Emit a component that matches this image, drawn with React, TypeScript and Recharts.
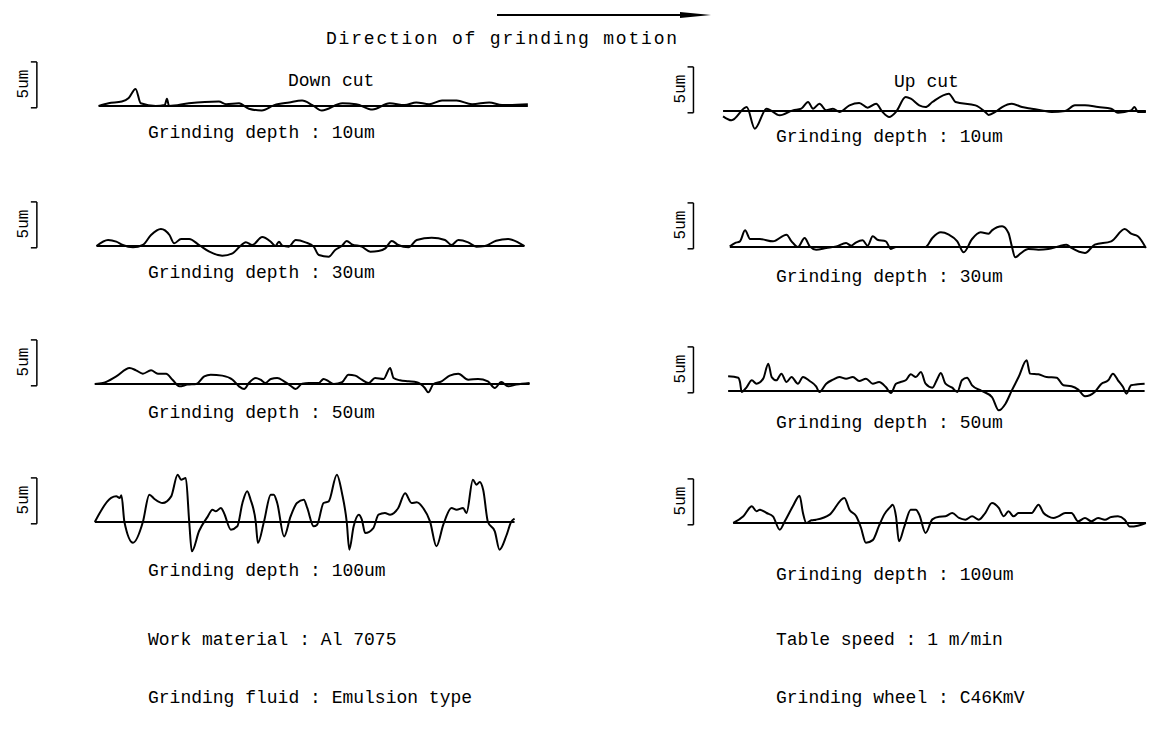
import React from 'react';
import { LineChart, Line, XAxis, YAxis, ReferenceLine } from 'recharts';

type Pt = [number, number];

// Surface profiles: [position along trace (0-100), height in um]
const downCut10: Pt[] = [[0,0],[2.3,0.3],[5.4,0.5],[7,0.9],[8.6,1.9],[9.8,0.3],[13.3,0],[15.4,0.1],[15.9,0.8],[16.4,0],[21,0.3],[28,0.5],[29.7,0.2],[32.7,0.3],[35,-0.3],[38,-0.5],[40.9,0.1],[44.4,0.4],[47.4,0.6],[49.8,0.1],[52,-0.5],[56.8,0.3],[60,0.2],[63.8,-0.4],[67.8,0.3],[71.3,0.1],[74,0.4],[77,0.2],[80,0.6],[83.4,0.6],[87,0.2],[91,0.4],[94,0.1],[100,0.2]];
const upCut10: Pt[] = [[0,-0.6],[2,-1.04],[5.6,0.44],[7.5,-1.96],[10.3,0.26],[13.4,-0.48],[16.5,0.07],[18.5,0.26],[20.1,1.0],[21.3,0.26],[22.8,0.81],[24.4,0.07],[26,0.26],[27.5,-0.1],[29.9,0.63],[32.2,0.89],[34.2,0.37],[36.2,0.81],[37.7,-0.1],[39.3,-0.67],[40.9,-0.1],[43.2,1.55],[44.4,1.37],[46.4,0.63],[47.9,0.44],[49.5,1.0],[53.4,1.93],[55,1.0],[59.7,0.63],[62,-0.1],[62.8,-0.44],[64.4,-0.1],[66,0.44],[68.3,0.81],[70.7,0.44],[73,0.26],[75.4,0.07],[77.7,-0.1],[80.9,0],[83.2,0.63],[85.6,0.63],[88.7,0.44],[91.8,0.26],[93.4,-0.2],[96.5,0.07],[97.3,0.44],[98.1,-0.1],[100,-0.1]];
const downCut30: Pt[] = [[-0.5,0],[2.2,0.67],[4.1,0.48],[5.6,0.11],[8,-0.15],[10.3,0.11],[12.2,1.22],[14.5,1.89],[16.5,1.22],[17.6,0.3],[19.2,0.78],[21.1,0.78],[23.4,0.11],[25.8,-0.63],[28.8,-1.07],[31.2,-0.81],[32.7,-0.15],[34.3,0.41],[35.8,0.11],[38.1,1.0],[40.1,0.48],[41.2,0],[42,0.48],[42.8,0.04],[44.3,-0.07],[45.9,0.67],[48.2,0.41],[50.1,-0.07],[51.3,-1.0],[53.6,-1.19],[55.1,-0.44],[56.7,0.04],[57.8,0.56],[59,0.19],[61.3,-0.07],[63.3,-0.63],[65.2,-0.56],[66.8,-0.26],[68.3,0.56],[69.8,0.11],[72.2,-0.15],[74.1,0.67],[77.6,0.93],[80.7,0.67],[82.2,0.11],[83.8,0.67],[86.1,0.41],[88,-0.07],[90,0],[92.6,0.59],[95.4,0.78],[97.7,0.41],[99.2,0]];
const upCut30: Pt[] = [[1.6,0.07],[2.8,0.44],[4,0.63],[5.2,1.85],[6.4,0.89],[8.7,0.89],[11.8,0.63],[15,1.37],[16.2,0.63],[17.7,0],[19.3,1.0],[20.5,0.07],[22,-0.3],[24.4,-0.11],[26.8,0.07],[29.1,0.44],[30.3,0.15],[31.5,0.52],[33,0.74],[34.2,0.15],[35.4,1.19],[36.5,0.81],[38.5,0.63],[39.7,-0.22],[40.9,0],[47.9,0],[49.5,1.0],[51.5,1.63],[53.4,1.37],[55.4,0.63],[56.9,-0.59],[58.9,0.89],[60.9,1.63],[62.8,1.48],[63.6,1.85],[66,2.3],[67.5,1.55],[68.3,0.07],[69.1,-1.15],[70.3,-0.74],[72.2,-0.22],[74.6,-0.3],[76.9,-0.22],[79.3,0.07],[81.2,0.26],[82.4,-0.11],[85.6,-0.67],[87.9,0.26],[91.8,0.63],[95,2.0],[96.5,1.48],[98.1,1.19],[100,-0.11]];
const downCut50: Pt[] = [[-0.9,0],[1,0.11],[4.1,0.85],[7.2,1.78],[8.7,1.52],[10.3,1.15],[12.2,1.52],[13.8,1.15],[15.7,1.15],[17.2,0.48],[18.8,-0.26],[20.7,-0.07],[22.7,0],[24.6,0.85],[26.1,1.04],[28.8,0.93],[31.2,0.48],[32.7,-0.26],[33.9,-0.56],[35,0.11],[36.6,0.67],[37.7,0.48],[38.9,0.11],[40.1,0.56],[41.6,0.67],[43.2,0.3],[44.7,-0.19],[45.9,-0.56],[47.4,0.04],[49,0.11],[51.3,0.11],[52.4,0.56],[53.6,0.3],[54.8,0],[56.7,0.19],[58.2,1.04],[59.8,0.93],[61.3,0.48],[62.9,0.11],[64.4,0.67],[66.4,0.56],[67.9,1.78],[68.7,0.67],[70.2,0.41],[72.2,0.3],[74.1,0.19],[76,-0.44],[76.8,-0.93],[78,0],[79.9,0.3],[81.8,0.93],[83.8,1.15],[86.1,0.48],[88.4,0.56],[90.7,0.3],[92.3,-0.44],[93.8,0.22],[95.4,-0.26],[97.3,-0.07],[100.4,0.11]];
const upCut50: Pt[] = [[1.2,1.63],[3.6,1.48],[4,1.0],[4.4,-0.11],[5.6,0.44],[6.8,1.19],[7.9,0.81],[9.5,1.37],[10.7,3.04],[11.5,1.55],[12.6,1.19],[13.8,1.93],[15,1.0],[16.2,1.55],[17.7,0.81],[18.9,1.55],[20.5,1.11],[22,0.52],[22.8,-0.11],[24.4,0.81],[26,1.26],[27.5,1.55],[29.1,1.37],[30.7,1.55],[32.2,1.11],[33.8,1.37],[35.4,0.81],[36.9,1.0],[38.5,0.44],[39.7,-0.22],[40.9,0.81],[42,1.0],[43.2,1.19],[44.4,1.85],[45.6,1.55],[46.8,2.11],[47.9,0.81],[49.5,0.37],[50.7,1.37],[51.5,2.0],[52.6,0.81],[54.2,0.37],[55.4,-0.11],[56.5,1.19],[57.7,1.48],[58.9,0.63],[61.2,0],[63.6,-0.67],[65.2,-2.15],[66.8,-1.41],[68.3,0.07],[69.9,1.55],[71.8,3.41],[72.6,1.93],[74.6,1.85],[76.5,1.55],[78.9,1.48],[80.5,0.63],[82.4,0.52],[84,0.15],[85.6,-0.59],[87.9,-0.11],[89.5,0.81],[91.1,1.19],[92.2,1.93],[93.4,1.19],[94.6,0.44],[95.4,-0.3],[96.5,0.63],[98.1,0.74],[99.7,0.81]];
const downCut100: Pt[] = [[-0.9,0],[2.9,2.67],[4.1,2.85],[4.9,2.67],[5.3,2.96],[6,0],[8,-2.3],[10.3,0],[11.8,3.04],[13,2.56],[14.9,2.11],[16.9,2.85],[18.4,5.26],[19.2,4.7],[20.3,4.89],[21.1,0],[21.7,-3.26],[23.4,-1.0],[25.4,0.6],[26.5,1.37],[27.3,1.19],[28.5,1.56],[29.2,1.0],[30.8,-0.85],[32.3,-0.48],[33.5,2.11],[34.6,3.41],[35.4,2.48],[36.6,0],[37.1,-2.33],[38.5,0],[40.1,3.04],[40.8,3.04],[41.6,2.11],[43.2,-1.6],[44.7,0.6],[46.2,2.11],[47.8,2.48],[48.6,1.56],[50.1,-0.48],[50.9,-0.3],[52.4,2.11],[53.6,2.3],[55.5,5.26],[56.7,3.19],[57.8,0],[58.4,-3.07],[59.4,-0.5],[60.6,0.81],[61.3,0.3],[62.1,-1.22],[64,-0.67],[65.2,0.81],[66.7,1.0],[67.9,0.81],[69.8,1.56],[71.4,3.19],[72.9,2.11],[74.1,2.19],[75.6,1.56],[77.2,0.07],[78.7,-2.7],[80.3,-0.3],[82.2,1.56],[83.4,1.37],[84.9,1.56],[85.7,1.0],[87.2,4.7],[88,4.15],[88.8,4.44],[89.6,3.56],[90.7,0],[92.3,-1.04],[93.4,-3.07],[95,-1.5],[96.1,0],[96.9,0.37]];
const upCut100: Pt[] = [[2.4,0],[4.8,0.74],[6.8,1.85],[7.9,1.3],[8.7,1.48],[10.3,1.11],[11.8,0.74],[13.4,-0.74],[14.6,0.19],[16.5,1.85],[18.1,3.04],[18.9,1.11],[19.7,0],[20.9,0.3],[22,0.37],[25.2,0.93],[28.7,2.78],[29.9,1.48],[31.5,0.74],[32.6,-0.5],[33.8,-2.2],[35.4,-1.9],[36.9,-0.3],[38.1,0.93],[39.7,1.85],[40.1,2.04],[40.9,0.74],[41.6,-2.04],[42.8,-0.5],[44.4,1.48],[45.6,1.48],[46.4,0.93],[47.9,-1.1],[49.5,0.4],[51.1,0.7],[52.6,0.74],[54.2,1.11],[55.8,0.56],[57.3,0.37],[58.9,0.74],[60.5,0.37],[62,1.11],[63.6,2.22],[65.2,1.67],[66.4,0.74],[67.5,1.3],[68.7,0.74],[69.9,1.11],[71.5,1.11],[73,1.11],[74.6,2.04],[75.8,1.11],[76.9,0.74],[78.1,0.56],[79.3,0.74],[80.9,1.11],[82.4,1.11],[84,0.19],[85.6,0.56],[87.1,0.19],[88.7,0.56],[90.3,0.37],[91.8,0.67],[93.4,0.74],[95,0.37],[96.2,-0.4],[98.1,-0.3],[100,0]];

const depthLabels = ['10um', '30um', '50um', '100um'];
const leftProfiles = [downCut10, downCut30, downCut50, downCut100];
const rightProfiles = [upCut10, upCut30, upCut50, upCut100];
const scaleBar: [number, number] = [-0.2, 4.9]; // 5 um bar

const FONT = '"Liberation Mono", "DejaVu Sans Mono", monospace';

const leftBase = [106, 246, 384, 522];
const rightBase = [111, 247, 391, 523];
const leftLabelY = [134, 274, 414, 572];
const rightLabelY = [138, 278, 424, 576];

function Profile({ data, left, baseY, width, xMin, barX }: { data: Pt[]; left: number; baseY: number; width: number; xMin: number; barX: number }) {
  const rows = data.map(([x, y]) => ({ x, y }));
  const x0 = data[0][0];
  const x1 = data[data.length - 1][0];
  return (
    <div style={{ position: 'absolute', left, top: baseY - 63 }}>
      <LineChart width={width} height={126} data={rows} margin={{ top: 0, right: 0, bottom: 0, left: 0 }}>
        <XAxis type="number" dataKey="x" domain={[xMin, 100.5]} hide allowDataOverflow />
        <YAxis type="number" domain={[-7, 7]} hide allowDataOverflow />
        <ReferenceLine segment={[{ x: x0, y: 0 }, { x: x1, y: 0 }]} stroke="#000" strokeWidth={2} ifOverflow="visible" />
        <ReferenceLine segment={[{ x: barX, y: scaleBar[0] }, { x: barX, y: scaleBar[1] }]} stroke="#000" strokeWidth={1.5} ifOverflow="visible" />
        <ReferenceLine segment={[{ x: barX - 1.4, y: scaleBar[0] }, { x: barX, y: scaleBar[0] }]} stroke="#000" strokeWidth={1.5} ifOverflow="visible" />
        <ReferenceLine segment={[{ x: barX - 1.4, y: scaleBar[1] }, { x: barX, y: scaleBar[1] }]} stroke="#000" strokeWidth={1.5} ifOverflow="visible" />
        <Line type="monotone" dataKey="y" stroke="#000" strokeWidth={2} dot={false} isAnimationActive={false} />
      </LineChart>
    </div>
  );
}

function Txt({ s, left, cy, size = 18, spacing = 0 }: { s: string; left: number; cy: number; size?: number; spacing?: number }) {
  return (
    <div style={{ position: 'absolute', left, top: cy - size * 0.6, fontFamily: FONT, fontSize: size, lineHeight: `${size * 1.2}px`, whiteSpace: 'pre', color: '#000', letterSpacing: spacing }}>{s}</div>
  );
}

function ScaleText({ cx, cy }: { cx: number; cy: number }) {
  const w = 34, h = 18;
  return (
    <div style={{ position: 'absolute', left: cx - w / 2, top: cy - h / 2, width: w, height: h, lineHeight: `${h}px`, textAlign: 'center', fontFamily: FONT, fontSize: 16, transform: 'rotate(-90deg)', whiteSpace: 'pre' }}>5um</div>
  );
}

export default function App() {
  return (
    <div style={{ position: 'absolute', left: 0, top: 0, width: 1151, height: 738, background: '#fff', overflow: 'hidden' }}>
      <svg width={1151} height={40} style={{ position: 'absolute', left: 0, top: 0 }}>
        <line x1={497} y1={15} x2={690} y2={15} stroke="#000" strokeWidth={2} />
        <polygon points="680,12 711,15 680,18" fill="#000" />
      </svg>
      <Txt s="Direction of grinding motion" left={326} cy={40} spacing={1.8} />
      <Txt s="Down cut" left={288} cy={82} />
      <Txt s="Up cut" left={894} cy={83} />
      {leftProfiles.map((d, i) => (
        <React.Fragment key={'l' + i}>
          <Profile data={d} left={30} baseY={leftBase[i]} width={500} xMin={-16} barX={-14.4} />
          <ScaleText cx={24} cy={leftBase[i] - 22} />
          <Txt s={`Grinding depth : ${depthLabels[i]}`} left={148} cy={leftLabelY[i]} />
        </React.Fragment>
      ))}
      {rightProfiles.map((d, i) => (
        <React.Fragment key={'r' + i}>
          <Profile data={d} left={685} baseY={rightBase[i]} width={463} xMin={-9} barX={-7} />
          <ScaleText cx={681} cy={rightBase[i] - 22} />
          <Txt s={`Grinding depth : ${depthLabels[i]}`} left={776} cy={rightLabelY[i]} />
        </React.Fragment>
      ))}
      <Txt s="Work material : Al 7075" left={148} cy={641} />
      <Txt s="Grinding fluid : Emulsion type" left={148} cy={699} />
      <Txt s="Table speed : 1 m/min" left={776} cy={641} />
      <Txt s="Grinding wheel : C46KmV" left={776} cy={699} />
    </div>
  );
}
